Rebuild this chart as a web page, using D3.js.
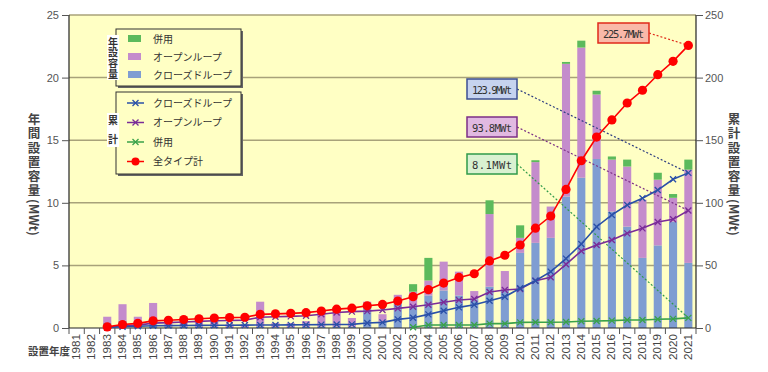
<!DOCTYPE html>
<html>
<head>
<meta charset="utf-8">
<script src="https://cdn.jsdelivr.net/npm/d3@7.9.0/dist/d3.min.js"></script>
<style>
  body { margin: 0; background: #fff; }
  svg { display: block; font-family: "Liberation Sans", Arial, "Noto Sans CJK JP", sans-serif; }
  .jp { font-family: "Noto Sans CJK JP", sans-serif; }
</style>
</head>
<body>
<svg id="chart" width="768" height="372"></svg>
<script>
const years = d3.range(1981, 2022);

// annual installed capacity (MWt)
const closedAnnual = [0, 0, 0.4, 0.6, 0.4, 0.4, 0.1, 0.1, 0.1, 0.1, 0.05, 0.05, 0.1, 0.05, 0.05, 0.1, 0.1, 0.1, 0.1, 1.7,
  0.5, 2.3, 1.7, 2.6, 3.0, 2.6, 2.3, 3.3, 3.0, 6.0, 6.8, 7.2, 10.5, 12.0, 13.5, 9.3, 8.1, 5.6, 6.6, 8.5, 5.2];
const openAnnual = [0, 0, 0.5, 1.3, 0.5, 1.6, 0.4, 0.5, 0.5, 0.5, 0.25, 0.25, 2.0, 0.35, 0.35, 0.45, 1.2, 1.4, 0.7, 0.4,
  0.6, 0.35, 1.2, 1.2, 2.3, 1.9, 0.65, 5.8, 1.55, 1.2, 6.45, 2.5, 10.6, 10.4, 5.15, 4.15, 4.8, 4.65, 5.25, 1.9, 7.45];
const combinedAnnual = [0, 0, 0, 0, 0, 0, 0, 0, 0, 0, 0, 0, 0, 0, 0, 0, 0, 0, 0, 0,
  0, 0, 0.6, 1.8, 0, 0, 0, 1.1, 0, 1.0, 0.15, 0, 0.15, 0.55, 0.3, 0.25, 0.55, 0, 0.55, 0.3, 0.8];

// cumulative capacity (MWt), from 1983
const closedCum = [null, null, 0.4, 1.0, 1.4, 1.8, 1.9, 2.0, 2.1, 2.2, 2.25, 2.3, 2.4, 2.45, 2.5, 2.6, 2.7, 2.8, 2.9, 4.0,
  4.5, 6.9, 8.2, 10.9, 13.8, 16.5, 18.6, 21.8, 25.0, 31.7, 37.8, 45.0, 55.4, 67.1, 80.9, 90.3, 98.2, 103.6, 110.2, 118.8, 123.9];
const openCum = [null, null, 0.5, 1.8, 2.3, 3.9, 4.3, 4.8, 5.3, 5.8, 6.05, 6.3, 8.6, 8.95, 9.3, 9.75, 10.95, 12.35, 13.05, 13.45,
  14.4, 15.7, 17.0, 18.6, 20.5, 22.4, 23.2, 28.8, 30.4, 31.2, 37.8, 40.5, 50.9, 61.5, 66.3, 70.3, 75.6, 79.6, 84.7, 86.8, 93.8];
const combinedCum = [null, null, null, null, null, null, null, null, null, null, null, null, null, null, null, null, null, null, null, null,
  null, null, 0.6, 2.4, 2.4, 2.4, 2.4, 3.5, 3.5, 4.5, 4.65, 4.65, 4.8, 5.35, 5.65, 5.9, 6.45, 6.45, 7.0, 7.3, 8.1];
const totalCum = [null, null, 0.9, 2.8, 3.7, 5.7, 6.2, 6.8, 7.4, 8.0, 8.3, 8.6, 10.9, 11.3, 11.7, 12.25, 13.55, 15.05, 15.85, 17.75,
  18.85, 21.5, 25.0, 30.6, 35.9, 40.4, 43.35, 53.55, 58.1, 66.3, 79.7, 89.4, 110.65, 133.6, 152.5, 166.2, 179.7, 189.9, 202.3, 213.0, 225.7];

const leftTicks = [0, 5, 10, 15, 20, 25];
const rightTicks = [0, 50, 100, 150, 200, 250];

const C = {
  bg: "#ffffc4", grid: "#a8a27a",
  closedBar: "#7f9dd2", openBar: "#c48ccc", combinedBar: "#5cba5c",
  closedLine: "#2a50a8", openLine: "#7a2c98", combinedLine: "#3aa24a", total: "#ff0000"
};

const svg = d3.select("#chart");
const plotL = 69, plotR = 696, plotT = 15, plotB = 328;

const x = d3.scaleBand().domain(years).range([plotL, plotR]).paddingInner(0.47).paddingOuter(0.235);
const yL = d3.scaleLinear().domain([0, 25]).range([plotB, plotT]);
const yR = d3.scaleLinear().domain([0, 250]).range([plotB, plotT]);
const cx = yr => x(yr) + x.bandwidth() / 2;

// plot background
svg.append("rect").attr("x", plotL).attr("y", plotT).attr("width", plotR - plotL).attr("height", plotB - plotT).attr("fill", C.bg);

// gridlines
svg.append("g").selectAll("line").data(leftTicks.slice(1)).join("line")
  .attr("x1", plotL).attr("x2", plotR).attr("y1", d => yL(d)).attr("y2", d => yL(d))
  .attr("stroke", C.grid).attr("stroke-width", 1.5);

// stacked bars
const rows = years.map((yr, i) => ({ year: yr, closed: closedAnnual[i], open: openAnnual[i], combined: combinedAnnual[i] }));
const stack = d3.stack().keys(["closed", "open", "combined"])(rows);
const barColor = { closed: C.closedBar, open: C.openBar, combined: C.combinedBar };
svg.append("g").selectAll("g").data(stack).join("g").attr("fill", s => barColor[s.key])
  .selectAll("rect").data(s => s).join("rect")
  .attr("x", d => x(d.data.year)).attr("width", x.bandwidth())
  .attr("y", d => yL(d[1])).attr("height", d => Math.max(0, yL(d[0]) - yL(d[1])));

// axes frame
const axisG = svg.append("g").attr("stroke", "#222").attr("stroke-width", 1.2);
axisG.append("line").attr("x1", plotL).attr("x2", plotL).attr("y1", plotT).attr("y2", plotB);
axisG.append("line").attr("x1", plotR).attr("x2", plotR).attr("y1", plotT).attr("y2", plotB);
axisG.append("line").attr("x1", plotL).attr("x2", plotR).attr("y1", plotB).attr("y2", plotB);

// left axis
const la = svg.append("g").attr("transform", `translate(${plotL},0)`)
  .call(d3.axisLeft(yL).tickValues(leftTicks).tickSize(7).tickPadding(3));
la.select(".domain").remove();
la.selectAll("line").attr("stroke", "#555");
la.selectAll("text").attr("font-size", 11).attr("fill", "#555");

// right axis
const ra = svg.append("g").attr("transform", `translate(${plotR},0)`)
  .call(d3.axisRight(yR).tickValues(rightTicks).tickSize(7).tickPadding(2));
ra.select(".domain").remove();
ra.selectAll("line").attr("stroke", "#555");
ra.selectAll("text").attr("font-size", 11).attr("fill", "#555");

// bottom ticks at band edges
const gap = (x.step() - x.bandwidth()) / 2;
const edges = years.map(yr => x(yr) - gap).concat([plotR]);
svg.append("g").selectAll("line").data(edges).join("line")
  .attr("x1", d => d).attr("x2", d => d).attr("y1", plotB).attr("y2", plotB + 6)
  .attr("stroke", "#555").attr("stroke-width", 1);

const ba = svg.append("g").attr("transform", `translate(0,${plotB})`)
  .call(d3.axisBottom(x).tickSize(0).tickPadding(0));
ba.select(".domain").remove();
ba.selectAll("text").attr("font-size", 10).attr("fill", "#444")
  .attr("text-anchor", "end").attr("dy", null)
  .attr("textLength", 26).attr("lengthAdjust", "spacingAndGlyphs")
  .attr("transform", "translate(3.5,6) rotate(-90)");

svg.append("text").attr("class", "jp").attr("x", 28).attr("y", 355)
  .attr("font-size", 10.5).attr("font-weight", "bold").attr("fill", "#444").text("設置年度");

// axis titles (vertical)
function vTitle(xp, jp) {
  const t = svg.append("text").attr("class", "jp").attr("x", xp).attr("y", 113)
    .attr("font-size", 12.5).attr("font-weight", "bold").attr("fill", "#444")
    .style("writing-mode", "vertical-rl");
  t.append("tspan").attr("letter-spacing", 1.8).text(jp);
  t.append("tspan").text("(MWt)");
}
vTitle(34, "年間設置容量");
vTitle(734, "累計設置容量");

// callouts
const lastYr = 2021, li = years.length - 1;
const callouts = [
  { label: "225.7MWt", bx: 598, by: 23, fill: "#f9b9a9", stroke: "#e02a1a", line: "#e02a1a", target: yR(totalCum[li]) },
  { label: "123.9MWt", bx: 467, by: 79, fill: "#c6d3ef", stroke: "#3c4f92", line: "#2c3c80", target: yR(closedCum[li]) },
  { label: "93.8MWt", bx: 467, by: 117, fill: "#e1b9e1", stroke: "#7c2f86", line: "#7c2f86", target: yR(openCum[li]) },
  { label: "8.1MWt", bx: 467, by: 154, fill: "#d9f1d1", stroke: "#2f9a4a", line: "#2f9a4a", target: yR(combinedCum[li]) }
];
const bw = [51, 50, 50, 50];
callouts.forEach((c, i) => {
  svg.append("line").attr("x1", c.bx + bw[i]).attr("y1", c.by + 10).attr("x2", cx(lastYr)).attr("y2", c.target)
    .attr("stroke", c.line).attr("stroke-width", 1.2).attr("stroke-dasharray", "2,2");
});

// cumulative lines
function cumLine(vals, color, marker) {
  const pts = years.map((yr, i) => ({ yr, v: vals[i] })).filter(d => d.v !== null);
  svg.append("path").datum(pts)
    .attr("d", d3.line().x(d => cx(d.yr)).y(d => yR(d.v)))
    .attr("fill", "none").attr("stroke", color).attr("stroke-width", 1.6);
  const g = svg.append("g");
  if (marker === "x") {
    g.selectAll("path").data(pts).join("path")
      .attr("d", d => { const px = cx(d.yr), py = yR(d.v), s = 3; return `M${px - s},${py - s}L${px + s},${py + s}M${px - s},${py + s}L${px + s},${py - s}`; })
      .attr("stroke", color).attr("stroke-width", 1.3);
  } else {
    g.selectAll("circle").data(pts).join("circle")
      .attr("cx", d => cx(d.yr)).attr("cy", d => yR(d.v)).attr("r", 4.6).attr("fill", color);
  }
}
cumLine(combinedCum, C.combinedLine, "x");
cumLine(openCum, C.openLine, "x");
cumLine(closedCum, C.closedLine, "x");
cumLine(totalCum, C.total, "o");

// callout boxes
callouts.forEach((c, i) => {
  svg.append("rect").attr("x", c.bx).attr("y", c.by).attr("width", bw[i]).attr("height", 20)
    .attr("fill", c.fill).attr("stroke", c.stroke).attr("stroke-width", 1.5);
  svg.append("text").attr("x", c.bx + bw[i] / 2).attr("y", c.by + 14.5).attr("text-anchor", "middle")
    .attr("font-family", "DejaVu Sans Mono, monospace").attr("font-size", 10.5).attr("fill", "#333")
    .attr("textLength", bw[i] - 10).text(c.label);
});

// legends
function legendBox(y0, h) {
  svg.append("rect").attr("x", 118).attr("y", y0 + 2).attr("width", 125).attr("height", h).attr("fill", "#666");
  svg.append("rect").attr("x", 116).attr("y", y0).attr("width", 125).attr("height", h)
    .attr("fill", C.bg).attr("stroke", "#333").attr("stroke-width", 1);
}
function vLabel(txt, y0, h, spacing) {
  svg.append("rect").attr("x", 107).attr("y", y0).attr("width", 12).attr("height", h).attr("fill", "#fff");
  svg.append("text").attr("class", "jp").attr("x", 113).attr("y", y0 + 2)
    .attr("font-size", 10).attr("font-weight", "bold").attr("fill", "#333")
    .attr("letter-spacing", spacing).style("writing-mode", "vertical-rl").text(txt);
}
legendBox(29, 57);
vLabel("年設容量", 35, 45, 0.6);
const barLegend = [["併用", C.combinedBar], ["オープンループ", C.openBar], ["クローズドループ", C.closedBar]];
barLegend.forEach(([t, col], i) => {
  const yy = 39 + i * 18;
  svg.append("rect").attr("x", 128).attr("y", yy - 4).attr("width", 13).attr("height", 7).attr("fill", col);
  svg.append("text").attr("class", "jp").attr("x", 153).attr("y", yy + 3.5).attr("font-size", 10).attr("fill", "#333").text(t);
});

legendBox(92, 82);
vLabel("累計", 113, 34, 9);
const lineLegend = [["クローズドループ", C.closedLine, "x"], ["オープンループ", C.openLine, "x"], ["併用", C.combinedLine, "x"], ["全タイプ計", C.total, "o"]];
lineLegend.forEach(([t, col, m], i) => {
  const yy = 103 + i * 19.5;
  svg.append("line").attr("x1", 127).attr("x2", 144).attr("y1", yy).attr("y2", yy).attr("stroke", col).attr("stroke-width", 1.5);
  if (m === "x") {
    svg.append("path").attr("d", `M132.5,${yy - 3}L138.5,${yy + 3}M132.5,${yy + 3}L138.5,${yy - 3}`).attr("stroke", col).attr("stroke-width", 1.3);
  } else {
    svg.append("circle").attr("cx", 135.5).attr("cy", yy).attr("r", 4).attr("fill", col);
  }
  svg.append("text").attr("class", "jp").attr("x", 153).attr("y", yy + 3.5).attr("font-size", 10).attr("fill", "#333").text(t);
});
</script>
</body>
</html>
